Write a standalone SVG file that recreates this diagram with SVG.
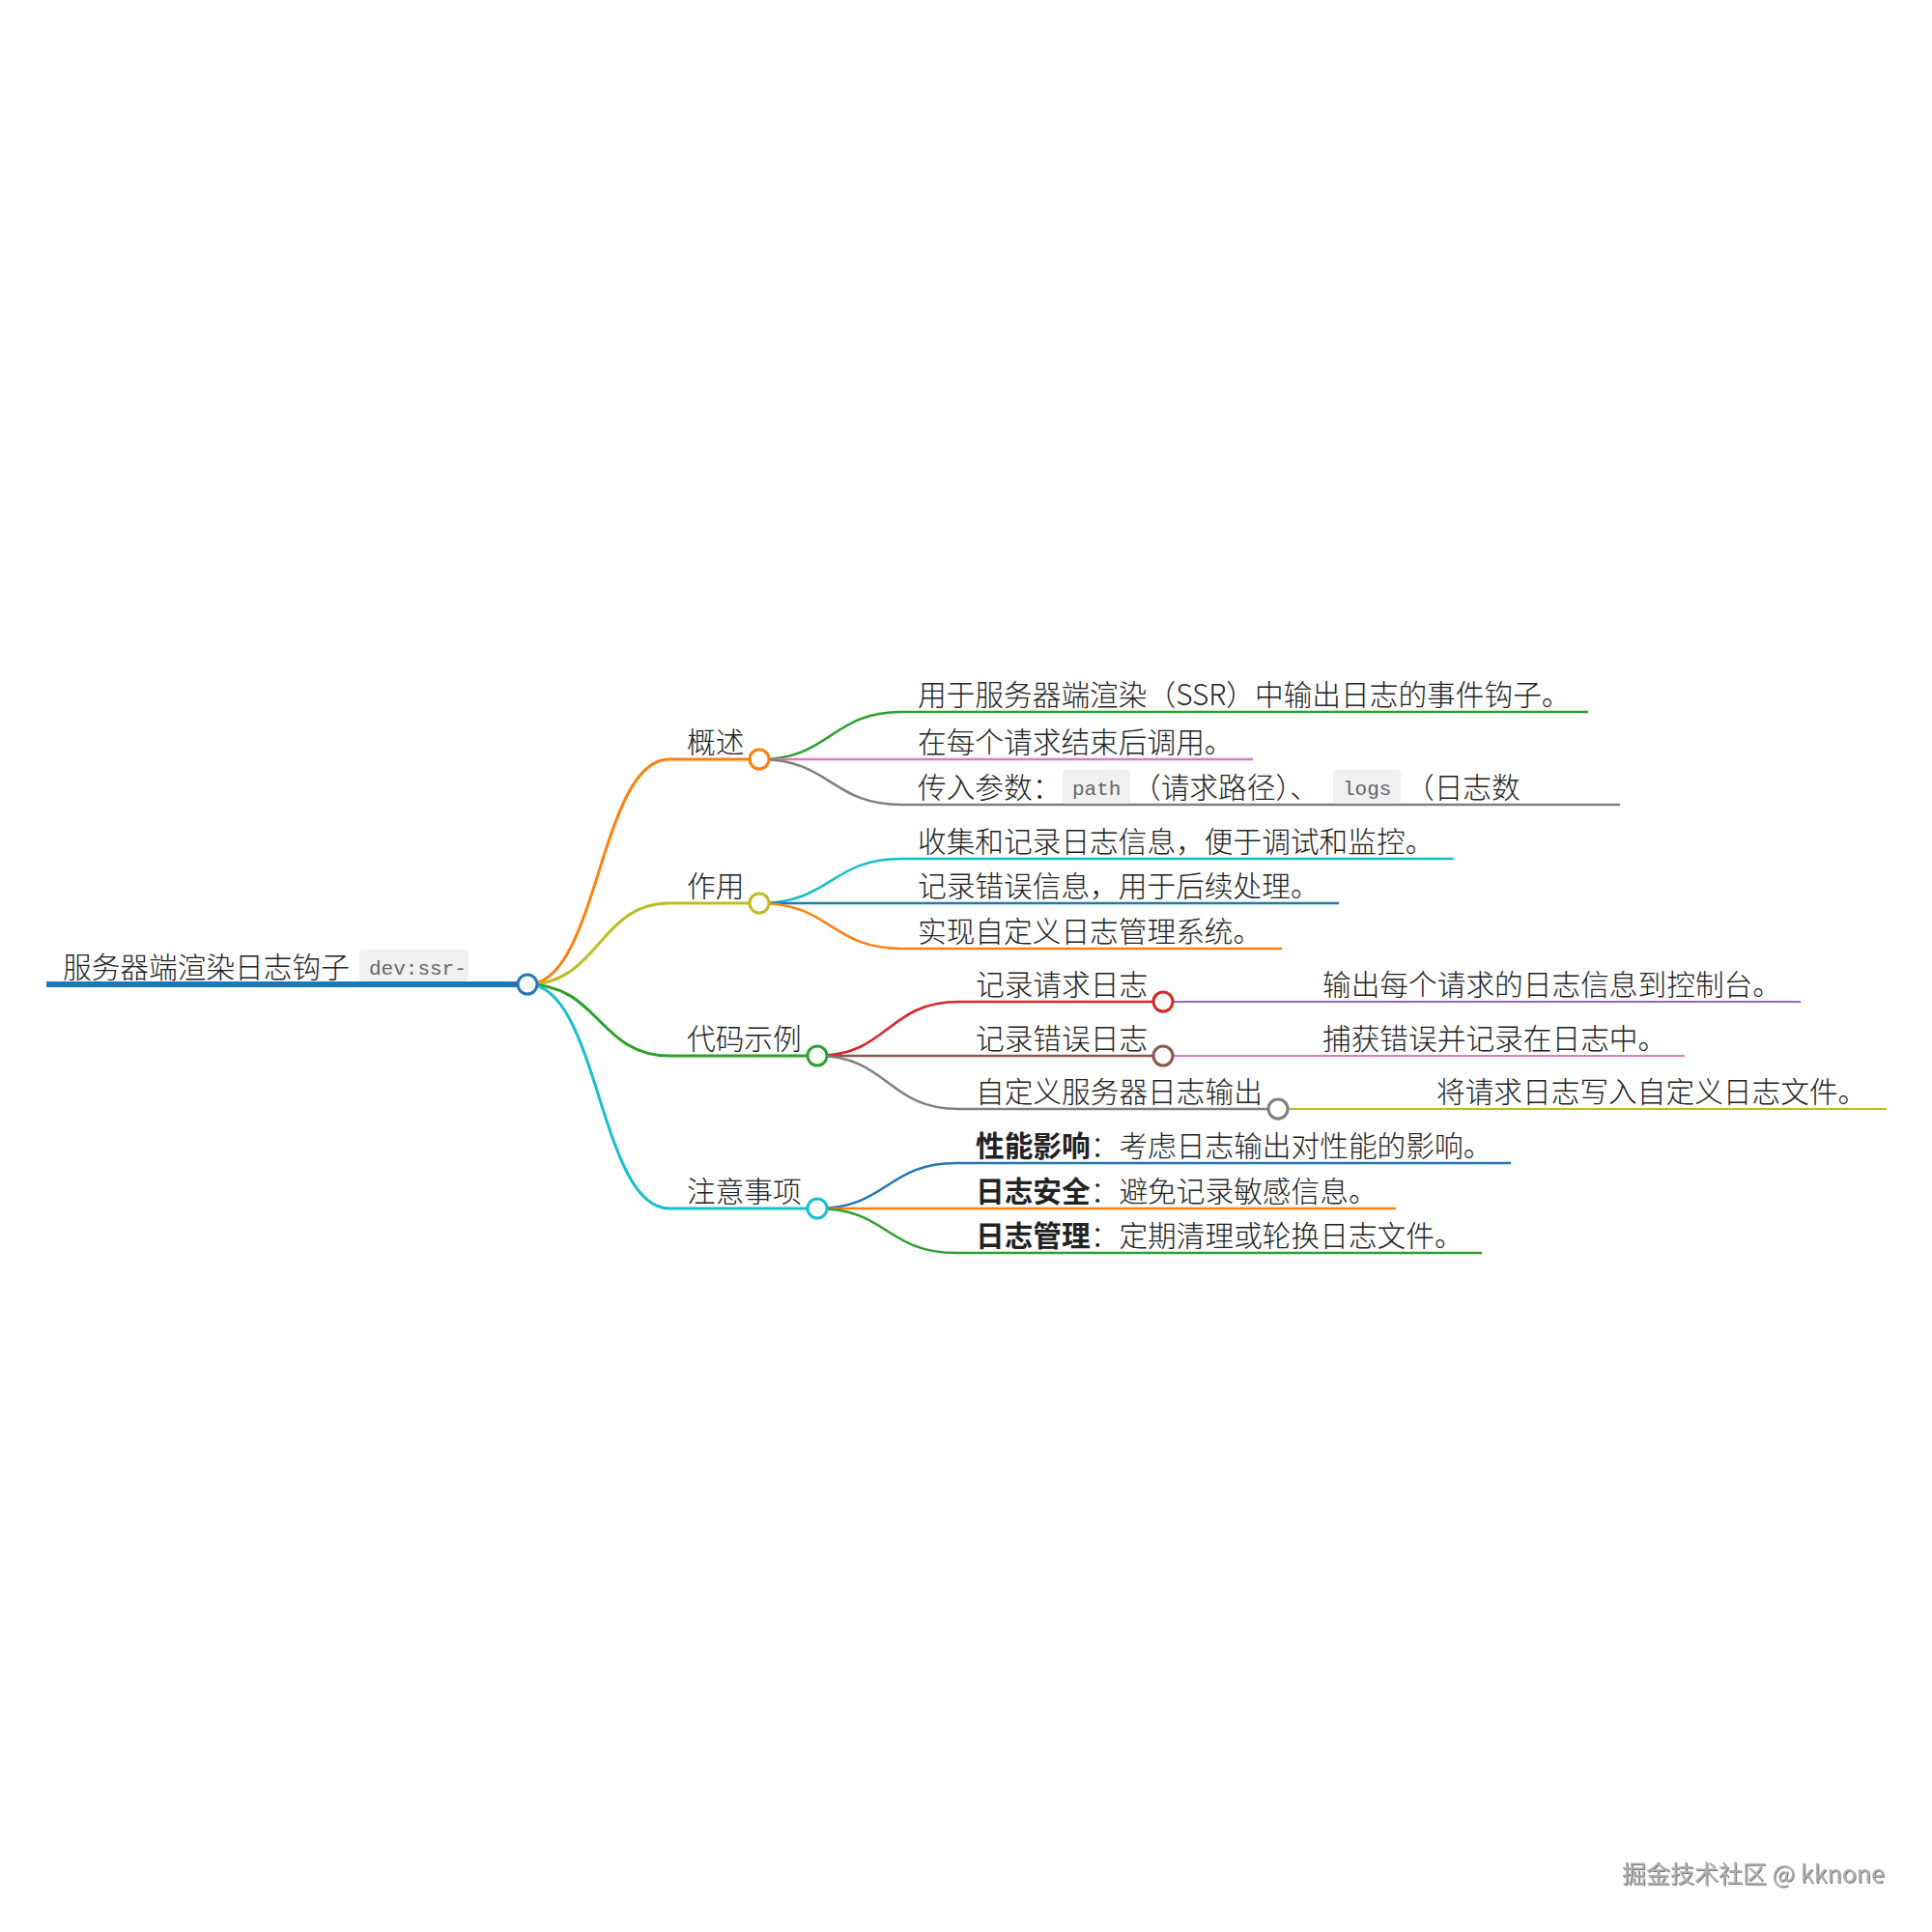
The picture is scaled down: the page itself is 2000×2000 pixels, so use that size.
<svg xmlns="http://www.w3.org/2000/svg" width="2000" height="2000" viewBox="0 0 2000 2000">
<style>
.t{font-family:"Noto Sans CJK SC","Liberation Sans",sans-serif;font-size:29.7px;font-weight:300;fill:#222}
.b{font-weight:bold}
.code{font-family:"Liberation Mono",monospace;font-size:21px;fill:#666}
.box{fill:#f0f0f0}
.c{fill:#fff;stroke-width:3}
.l1{fill:none;stroke-width:3}
.l2{fill:none;stroke-width:2.5}
.l3{fill:none;stroke-width:2}
.wm{font-family:"Noto Sans CJK SC","Liberation Sans",sans-serif;font-size:25px;fill:#b0b0b0}
</style>
<defs>
<filter id="emb" x="-5%" y="-20%" width="110%" height="140%">
<feDropShadow dx="1" dy="1" stdDeviation="0.3" flood-color="#555" flood-opacity="0.8"/>
</filter>
</defs>
<rect width="2000" height="2000" fill="#fff"/>
<g id="connectors">
<path class="l1" stroke="#ff7f0e" d="M546,1019 C620,1019 620,786 693,786 H786"/>
<path class="l1" stroke="#bcbd22" d="M546,1019 C620,1019 620,935 693,935 H786"/>
<path class="l1" stroke="#2ca02c" d="M546,1019 C620,1019 620,1093 693,1093 H846"/>
<path class="l1" stroke="#17becf" d="M546,1019 C620,1019 620,1251 693,1251 H846"/>
<path class="l2" stroke="#2ca02c" d="M786,786 C860,786 860,737 933,737 H1644"/>
<path class="l2" stroke="#e377c2" d="M786,786 H1297"/>
<path class="l2" stroke="#7f7f7f" d="M786,786 C860,786 860,833 933,833 H1677"/>
<path class="l2" stroke="#17becf" d="M786,935 C860,935 860,889 933,889 H1505"/>
<path class="l2" stroke="#1f77b4" d="M786,935 H1386"/>
<path class="l2" stroke="#ff7f0e" d="M786,935 C860,935 860,982 933,982 H1327"/>
<path class="l2" stroke="#d62728" d="M846,1093 C919,1093 919,1037 992,1037 H1204"/>
<path class="l2" stroke="#8c564b" d="M846,1093 H1204"/>
<path class="l2" stroke="#7f7f7f" d="M846,1093 C919,1093 919,1148 992,1148 H1323"/>
<path class="l3" stroke="#9467bd" d="M1204,1037 H1864"/>
<path class="l3" stroke="#e377c2" d="M1204,1093 H1744"/>
<path class="l3" stroke="#bcbd22" d="M1323,1148 H1953"/>
<path class="l2" stroke="#1f77b4" d="M846,1251 C918,1251 918,1204 990,1204 H1564"/>
<path class="l2" stroke="#ff7f0e" d="M846,1251 H1445"/>
<path class="l2" stroke="#2ca02c" d="M846,1251 C918,1251 918,1297 990,1297 H1534"/>
</g>
<g id="root">
<line x1="48" y1="1019" x2="546" y2="1019" stroke="#1f77b4" stroke-width="6"/>
<text class="t" x="65" y="1012">服务器端渲染日志钩子</text>
<rect class="box" x="372" y="983" width="113" height="33" rx="4"/>
<text class="code" x="382" y="1009">dev:ssr-</text>
<circle class="c" cx="546" cy="1019" r="10" stroke="#1f77b4"/>
</g>
<g id="n-gaishu">
<text class="t" x="711" y="779">概述</text>
<circle class="c" cx="786" cy="786" r="10" stroke="#ff7f0e"/>
</g>
<g id="n-gaishu-1"><text class="t" x="950" y="730">用于服务器端渲染（SSR）中输出日志的事件钩子。</text></g>
<g id="n-gaishu-2"><text class="t" x="950" y="779">在每个请求结束后调用。</text></g>
<g id="n-gaishu-3">
<rect class="box" x="1100" y="797" width="70" height="35" rx="4"/>
<rect class="box" x="1380" y="797" width="70" height="35" rx="4"/>
<text class="t" x="950" y="826">传入参数：</text>
<text class="code" x="1110" y="823">path</text>
<text class="t" x="1172" y="826">（请求路径）、</text>
<text class="code" x="1390" y="823">logs</text>
<text class="t" x="1455" y="826">（日志数</text>
</g>
<g id="n-zuoyong">
<text class="t" x="711" y="928">作用</text>
<circle class="c" cx="786" cy="935" r="10" stroke="#bcbd22"/>
</g>
<g id="n-zuoyong-1"><text class="t" x="950" y="882">收集和记录日志信息，便于调试和监控。</text></g>
<g id="n-zuoyong-2"><text class="t" x="950" y="928">记录错误信息，用于后续处理。</text></g>
<g id="n-zuoyong-3"><text class="t" x="950" y="975">实现自定义日志管理系统。</text></g>
<g id="n-code">
<text class="t" x="711" y="1086">代码示例</text>
<circle class="c" cx="846" cy="1093" r="10" stroke="#2ca02c"/>
</g>
<g id="n-code-1">
<text class="t" x="1010" y="1030">记录请求日志</text>
<circle class="c" cx="1204" cy="1037" r="10" stroke="#d62728"/>
</g>
<g id="n-code-1-1"><text class="t" x="1369" y="1030">输出每个请求的日志信息到控制台。</text></g>
<g id="n-code-2">
<text class="t" x="1010" y="1086">记录错误日志</text>
<circle class="c" cx="1204" cy="1093" r="10" stroke="#8c564b"/>
</g>
<g id="n-code-2-1"><text class="t" x="1369" y="1086">捕获错误并记录在日志中。</text></g>
<g id="n-code-3">
<text class="t" x="1010" y="1141">自定义服务器日志输出</text>
<circle class="c" cx="1323" cy="1148" r="10" stroke="#7f7f7f"/>
</g>
<g id="n-code-3-1"><text class="t" x="1487" y="1141">将请求日志写入自定义日志文件。</text></g>
<g id="n-note">
<text class="t" x="711" y="1244">注意事项</text>
<circle class="c" cx="846" cy="1251" r="10" stroke="#17becf"/>
</g>
<g id="n-note-1"><text class="t" x="1010" y="1197"><tspan class="b">性能影响</tspan>：考虑日志输出对性能的影响。</text></g>
<g id="n-note-2"><text class="t" x="1010" y="1244"><tspan class="b">日志安全</tspan>：避免记录敏感信息。</text></g>
<g id="n-note-3"><text class="t" x="1010" y="1290"><tspan class="b">日志管理</tspan>：定期清理或轮换日志文件。</text></g>
<g id="watermark"><text class="wm" x="1679" y="1949" filter="url(#emb)">掘金技术社区 @ kknone</text></g>
</svg>
